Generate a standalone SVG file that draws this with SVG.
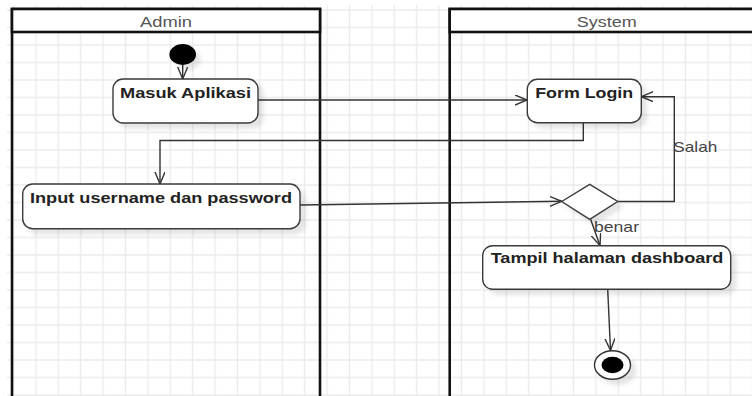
<svg xmlns="http://www.w3.org/2000/svg" width="752" height="396" viewBox="0 0 752 396">
  <defs>
    <pattern id="grid" patternUnits="userSpaceOnUse" x="2.3" y="1.25" width="22.4" height="17.5">
      <path d="M11.2,0 V17.5 M0,8.75 H22.4" stroke="#ebebeb" stroke-width="1.4" fill="none"/>
    </pattern>
    <filter id="shadow" x="-20%" y="-20%" width="150%" height="160%">
      <feDropShadow dx="5" dy="5" stdDeviation="2" flood-color="#000" flood-opacity="0.1"/>
    </filter>
    <marker id="open" markerUnits="userSpaceOnUse" markerWidth="14" markerHeight="12" refX="12" refY="5" orient="auto">
      <path d="M0,0 L12,5 L0,10" fill="none" stroke="#333" stroke-width="1.4"/>
    </marker>
    <style>
      .lane { fill: none; stroke: #111; stroke-width: 2.6; }
      .head { fill: #fff; stroke: #111; stroke-width: 2.6; }
      .lanetxt { font-family: "Liberation Sans", Arial, sans-serif; font-size: 15px; fill: #555; text-anchor: middle; }
      .box { fill: #fff; stroke: #3a3a3a; stroke-width: 1.4; filter: url(#shadow); }
      .lbl { font-family: "Liberation Sans", Arial, sans-serif; font-size: 15px; font-weight: bold; fill: #222; text-anchor: middle; }
      .guard { font-family: "Liberation Sans", Arial, sans-serif; font-size: 15px; fill: #444; }
      .edge { fill: none; stroke: #333; stroke-width: 1.4; marker-end: url(#open); }
    </style>
  </defs>

  <!-- background grid -->
  <rect x="0" y="0" width="752" height="396" fill="#fff"/>
  <rect x="7" y="5" width="745" height="391" fill="url(#grid)"/>

  <!-- swimlanes -->
  <g id="lane-admin">
    <rect class="lane" x="12" y="9" width="308" height="400"/>
    <rect class="head" x="12" y="9" width="308" height="23"/>
    <text class="lanetxt" x="166" y="27" textLength="52" lengthAdjust="spacingAndGlyphs">Admin</text>
  </g>
  <g id="lane-system">
    <rect class="lane" x="449.7" y="9" width="320" height="400"/>
    <rect class="head" x="449.7" y="9" width="320" height="23"/>
    <text class="lanetxt" x="606.7" y="27" textLength="60" lengthAdjust="spacingAndGlyphs">System</text>
  </g>

  <!-- connectors -->
  <g id="connectors">
    <path class="edge" d="M182.7,65 L182.7,79"/>
    <path class="edge" d="M258,100 L527,100"/>
    <path class="edge" d="M583.3,123 V140.5 H160 V184"/>
    <path class="edge" d="M300,205 L561.7,201.3"/>
    <path class="edge" d="M617.7,201.5 H674.3 V96.7 H641.3"/>
    <path class="edge" d="M590.7,219.5 L600,245.5"/>
    <path class="edge" d="M607.7,289.3 L610.5,350.5"/>
    <text class="guard" x="673.3" y="151.7" textLength="44" lengthAdjust="spacingAndGlyphs">Salah</text>
    <text class="guard" x="594" y="231.7" textLength="45" lengthAdjust="spacingAndGlyphs">benar</text>
  </g>

  <!-- nodes -->
  <g id="start">
    <ellipse cx="182.7" cy="54.5" rx="13.3" ry="10.4" fill="#000" filter="url(#shadow)"/>
  </g>
  <g id="masuk-aplikasi">
    <rect class="box" x="113" y="79" width="145" height="44" rx="10" ry="10"/>
    <text class="lbl" x="185.5" y="98" textLength="131" lengthAdjust="spacingAndGlyphs">Masuk Aplikasi</text>
  </g>
  <g id="form-login">
    <rect class="box" x="527.3" y="79.3" width="114" height="43.4" rx="10" ry="10"/>
    <text class="lbl" x="584.2" y="97.5" textLength="98" lengthAdjust="spacingAndGlyphs">Form Login</text>
  </g>
  <g id="input-credentials">
    <rect class="box" x="22.7" y="184" width="277.3" height="44.7" rx="10" ry="10"/>
    <text class="lbl" x="161" y="202.7" textLength="262" lengthAdjust="spacingAndGlyphs">Input username dan password</text>
  </g>
  <g id="decision">
    <path class="box" d="M561.7,201.5 L589.7,184.3 L617.7,201.5 L589.7,219.3 Z"/>
  </g>
  <g id="tampil-dashboard">
    <rect class="box" x="482.7" y="245.7" width="248" height="43.6" rx="10" ry="10"/>
    <text class="lbl" x="607" y="263.3" textLength="232.7" lengthAdjust="spacingAndGlyphs">Tampil halaman dashboard</text>
  </g>
  <g id="end">
    <ellipse cx="612.5" cy="365" rx="18" ry="14.3" fill="#fff" stroke="#333" stroke-width="1.4" filter="url(#shadow)"/>
    <ellipse cx="612.5" cy="365" rx="11" ry="8.3" fill="#000"/>
  </g>
</svg>
